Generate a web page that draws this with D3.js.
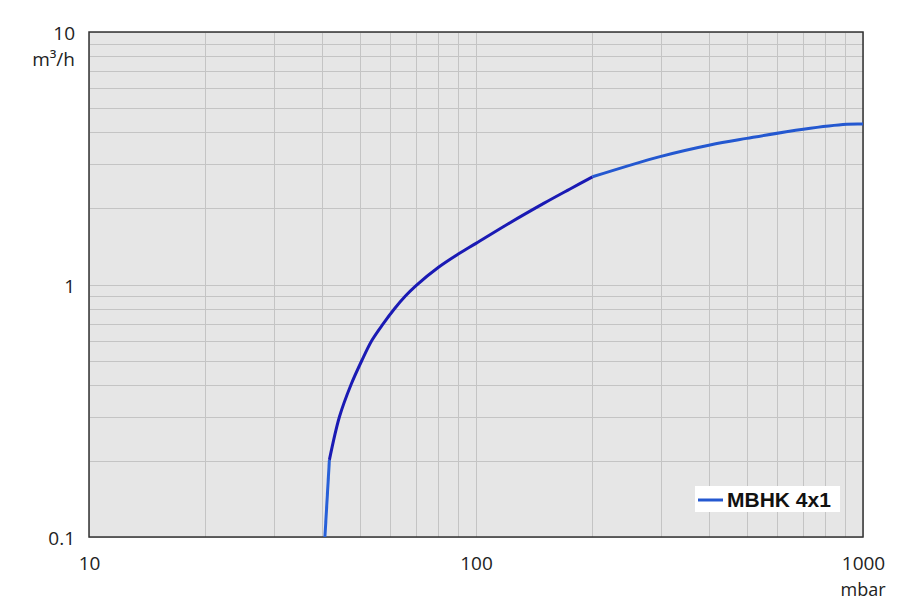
<!DOCTYPE html>
<html><head><meta charset="utf-8">
<script src="https://cdn.jsdelivr.net/npm/d3@7"></script>
<style>body{margin:0;background:#fff}svg{display:block}</style>
</head><body>
<svg id="c" width="900" height="602"></svg>
<script>
const xTickLabels = ["10","100","1000"];
const yTickLabels = ["0.1","1","10"];
const seriesName = "MBHK 4x1";
// segment 1: vertical drop near ultimate pressure
const seg1P = [40.7, 41.8];
const seg1Q = [0.1, 0.202];
// segment 2: up to 200 mbar
const seg2P = [41.8, 44.4, 47.5, 50.7, 53.8, 57.6, 61.5, 65.7, 70, 80, 90, 100, 120, 150, 175, 200];
const seg2Q = [0.202, 0.30, 0.40, 0.50, 0.60, 0.70, 0.80, 0.90, 0.99, 1.17, 1.32, 1.455, 1.725, 2.10, 2.39, 2.67];
// segment 3: 200 to 1000 mbar
const seg3P = [200, 298.9, 402.4, 500.6, 701, 907.8, 1000];
const seg3Q = [2.67, 3.21, 3.57, 3.79, 4.12, 4.31, 4.32];

const svg = d3.select("#c");
const L=89, R=863, T=32, B=537;
const x = d3.scaleLog().domain([10,1000]).range([L,R]);
const y = d3.scaleLog().domain([0.1,10]).range([B,T]);

svg.append("rect").attr("x",L).attr("y",T).attr("width",R-L).attr("height",B-T).attr("fill","#e6e6e6");

const xGrid=[], yGrid=[];
for (const d of [10,100]) for (let k=1;k<=10;k++) xGrid.push(d*k);
for (const d of [0.1,1]) for (let k=1;k<=10;k++) yGrid.push(+(d*k).toPrecision(3));
const g = svg.append("g");
g.selectAll("line.v").data(xGrid).join("line").attr("class","v")
 .attr("x1",d=>Math.round(x(d))+0.5).attr("x2",d=>Math.round(x(d))+0.5).attr("y1",T).attr("y2",B)
 .attr("stroke","#c4c4c4").attr("stroke-width",1);
g.selectAll("line.h").data(yGrid).join("line").attr("class","h")
 .attr("y1",d=>Math.round(y(d))+0.5).attr("y2",d=>Math.round(y(d))+0.5).attr("x1",L).attr("x2",R)
 .attr("stroke","#c4c4c4").attr("stroke-width",1);

svg.append("rect").attr("x",L).attr("y",T).attr("width",R-L).attr("height",B-T)
 .attr("fill","none").attr("stroke","#333").attr("stroke-width",1.5);

const mk=(P,Q)=>P.map((p,i)=>[p,Q[i]]);
const straight = d3.line().x(d=>x(d[0])).y(d=>y(d[1]));
const smooth = d3.line().x(d=>x(d[0])).y(d=>y(d[1])).curve(d3.curveCatmullRom.alpha(0.5));
svg.append("path").datum(mk(seg1P,seg1Q)).attr("d",straight).attr("fill","none").attr("stroke","#2860d8").attr("stroke-width",3);
svg.append("path").datum(mk(seg2P,seg2Q)).attr("d",smooth).attr("fill","none").attr("stroke","#1a1ab4").attr("stroke-width",3).attr("stroke-linejoin","round");
svg.append("path").datum(mk(seg3P,seg3Q)).attr("d",smooth).attr("fill","none").attr("stroke","#2458d0").attr("stroke-width",3).attr("stroke-linejoin","round");

const font="'Open Sans', 'DejaVu Sans', sans-serif";
const yAxis = d3.axisLeft(y).tickValues([0.1,1,10]).tickFormat((d,i)=>yTickLabels[i]).tickSize(0).tickPadding(0);
const ya = svg.append("g").attr("transform",`translate(${L-14},0)`).call(yAxis);
ya.select(".domain").remove();
ya.selectAll("text").attr("font-family",font).attr("font-size",19).attr("fill","#222").attr("dy","0.4em");

const xAxis = d3.axisBottom(x).tickValues([10,100,1000]).tickFormat((d,i)=>xTickLabels[i]).tickSize(0).tickPadding(0);
const xa = svg.append("g").attr("transform",`translate(0,${B+33})`).call(xAxis);
xa.select(".domain").remove();
xa.selectAll("text").attr("font-family",font).attr("font-size",19).attr("fill","#222").attr("dy","0");

svg.append("text").attr("x",L-14).attr("y",66).attr("text-anchor","end").attr("font-family",font).attr("font-size",19).attr("fill","#222").text("m³/h");
svg.append("text").attr("x",R).attr("y",596).attr("text-anchor","middle").attr("font-family",font).attr("font-size",18).attr("fill","#222").text("mbar");

const lg = svg.append("g");
lg.append("rect").attr("x",695).attr("y",486).attr("width",145).attr("height",26).attr("fill","#fff");
lg.append("line").attr("x1",698).attr("x2",723).attr("y1",500).attr("y2",500).attr("stroke","#2458d0").attr("stroke-width",3);
lg.append("text").attr("x",727).attr("y",507).attr("font-family","'Liberation Sans', Arial, sans-serif").attr("font-weight","bold").attr("font-size",21).attr("fill","#111").text(seriesName);
</script>
</body></html>
